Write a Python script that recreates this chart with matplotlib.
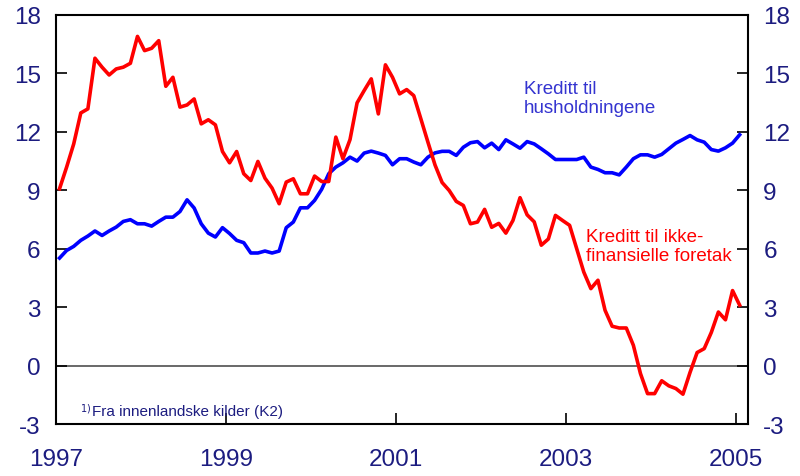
import matplotlib
matplotlib.use("Agg")
import matplotlib.pyplot as plt
import numpy as np

plt.rcParams['font.family'] = ['Liberation Sans', 'DejaVu Sans']

start_year = 1997
households = [5.52, 5.91, 6.12, 6.43, 6.65, 6.91, 6.68, 6.91, 7.11, 7.40, 7.49, 7.28,
              7.28, 7.16, 7.40, 7.62, 7.62, 7.91, 8.51, 8.09, 7.28, 6.80, 6.60, 7.08,
              6.78, 6.43, 6.31, 5.78, 5.78, 5.88, 5.78, 5.88, 7.08, 7.37, 8.10, 8.10,
              8.48, 9.05, 9.85, 10.19, 10.41, 10.70, 10.50, 10.91, 11.01, 10.91, 10.79, 10.31,
              10.62, 10.62, 10.45, 10.31, 10.70, 10.92, 11.00, 11.00, 10.79, 11.21, 11.44, 11.50,
              11.18, 11.42, 11.09, 11.59, 11.38, 11.16, 11.50, 11.38, 11.13, 10.87, 10.58, 10.58,
              10.58, 10.58, 10.70, 10.19, 10.07, 9.90, 9.90, 9.79, 10.19, 10.62, 10.82, 10.82,
              10.70, 10.84, 11.13, 11.42, 11.61, 11.81, 11.59, 11.47, 11.09, 11.01, 11.18, 11.42,
              11.85]
firms = [9.08, 10.19, 11.38, 12.97, 13.18, 15.78, 15.32, 14.92, 15.23, 15.32, 15.52, 16.90,
         16.17, 16.29, 16.68, 14.34, 14.80, 13.27, 13.38, 13.69, 12.41, 12.62, 12.36, 10.99,
         10.41, 10.99, 9.85, 9.50, 10.48, 9.62, 9.11, 8.31, 9.42, 9.59, 8.82, 8.82,
         9.73, 9.45, 9.45, 11.73, 10.62, 11.60, 13.49, 14.12, 14.72, 12.92, 15.44, 14.80,
         13.95, 14.17, 13.86, 12.67, 11.47, 10.30, 9.40, 8.99, 8.43, 8.22, 7.28, 7.37,
         8.02, 7.10, 7.30, 6.80, 7.45, 8.62, 7.74, 7.38, 6.18, 6.50, 7.71, 7.45,
         7.20, 6.00, 4.80, 3.95, 4.38, 2.84, 2.02, 1.93, 1.93, 1.04, -0.41, -1.44,
         -1.44, -0.78, -1.04, -1.18, -1.47, -0.35, 0.67, 0.87, 1.70, 2.75, 2.35, 3.85,
         3.10]
y_ticks = [-3, 0, 3, 6, 9, 12, 15, 18]
x_ticks = [1997, 1999, 2001, 2003, 2005]
label_households = "Kreditt til\nhusholdningene"
label_firms = "Kreditt til ikke-\nfinansielle foretak"
footnote = "Fra innenlandske kilder (K2)"

x = start_year + (np.arange(len(firms)) + 0.5) / 12.0

navy = '#1c1c80'
fig = plt.figure(figsize=(8, 4.77), dpi=100)
ax = fig.add_axes([0.07, 0.109, 0.865, 0.8575])

ax.axhline(0, color='#404040', lw=1.1, zorder=1)
ax.plot(x, households, color='#0000ff', lw=2.6, zorder=3, solid_joinstyle='round')
ax.plot(x, firms, color='#ff0000', lw=2.6, zorder=3, solid_joinstyle='round')

ax.set_xlim(1997, 2005.14)
ax.set_ylim(-3, 18)
ax.set_yticks(y_ticks)
ax.set_yticklabels([str(v) for v in y_ticks])
ax.set_xticks(x_ticks)
ax.set_xticklabels([str(v) for v in x_ticks])
ax.tick_params(axis='both', direction='in', length=8, width=1.2, colors='black',
               labelcolor=navy, labelsize=17.5)
ax.tick_params(axis='y', right=True, labelright=True, pad=11)
ax.tick_params(axis='x', pad=17)
for s in ax.spines.values():
    s.set_linewidth(1.5)
    s.set_color('black')

ax.text(2002.5, 12.8, label_households, color='#3434d0', fontsize=13.5,
        ha='left', va='bottom', linespacing=1.15)
ax.text(2003.23, 5.2, label_firms, color='#ff0000', fontsize=13.5,
        ha='left', va='bottom', linespacing=1.15)
ax.text(1997.28, -2.55, r'$^{1)}$', color=navy, fontsize=10, ha='left', va='baseline')
ax.text(1997.42, -2.55, footnote, color=navy, fontsize=11, ha='left', va='baseline')

fig.savefig('out.png', dpi=100)
